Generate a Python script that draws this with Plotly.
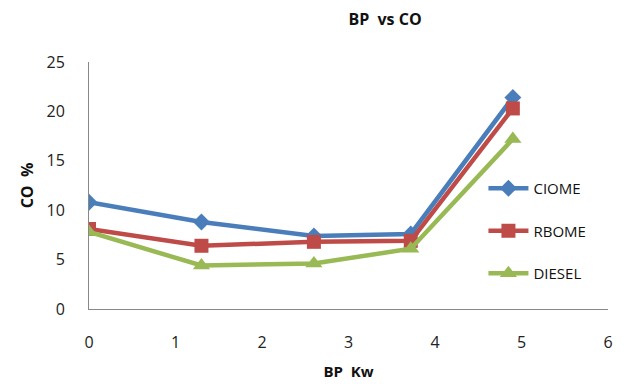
import plotly.graph_objects as go

bp = [0, 1.3, 2.6, 3.72, 4.9]
ciome = [10.8, 8.8, 7.4, 7.6, 21.4]
rbome = [8.1, 6.4, 6.8, 6.9, 20.3]
diesel = [7.8, 4.4, 4.6, 6.1, 17.2]

series = [
    ("CIOME", ciome, "#4A7EBB", "diamond", 13),
    ("RBOME", rbome, "#BE4B48", "square", 14),
    ("DIESEL", diesel, "#98B954", "triangle-up", 15),
]

fig = go.Figure()
for name, ys, color, sym, size in series:
    fig.add_trace(go.Scatter(
        x=bp, y=ys, name=name, mode="lines+markers", legendgroup=name,
        line=dict(color=color, width=4.5),
        marker=dict(symbol=sym, size=size, color=color),
    ))

font = "Open Sans, Liberation Sans, sans-serif"
fig.update_layout(
    width=639, height=384,
    margin=dict(l=89, r=31, t=62, b=75),
    paper_bgcolor="white", plot_bgcolor="white",
    font=dict(family=font, color="#222"),
    title=dict(text="<b>BP  vs CO</b>", x=385/639, xanchor="center", y=1-19/384, yanchor="middle",
               font=dict(size=16, color="#111")),
    showlegend=True,
    legend=dict(x=0.76, xanchor="left", y=0.316, yanchor="middle", tracegroupgap=20,
                font=dict(size=15, color="#111"), bgcolor="rgba(0,0,0,0)", itemwidth=40),
    xaxis=dict(range=[0, 6], dtick=1, showgrid=False, zeroline=False, showline=True,
               linecolor="#888", linewidth=1, ticks="", tickfont=dict(size=16, color="#222"),
               ticklabelstandoff=19, automargin=False,
               title=dict(text="<b>BP  Kw</b>", font=dict(size=15, color="#111"), standoff=14)),
    yaxis=dict(range=[0, 25], dtick=5, showgrid=False, zeroline=False, showline=True,
               linecolor="#888", linewidth=1, ticks="", tickfont=dict(size=16, color="#222"),
               ticklabelstandoff=20, automargin=False,
               title=dict(text="<b>CO  %</b>", font=dict(size=16, color="#111"), standoff=8)),
)
fig.write_html("out.html")
